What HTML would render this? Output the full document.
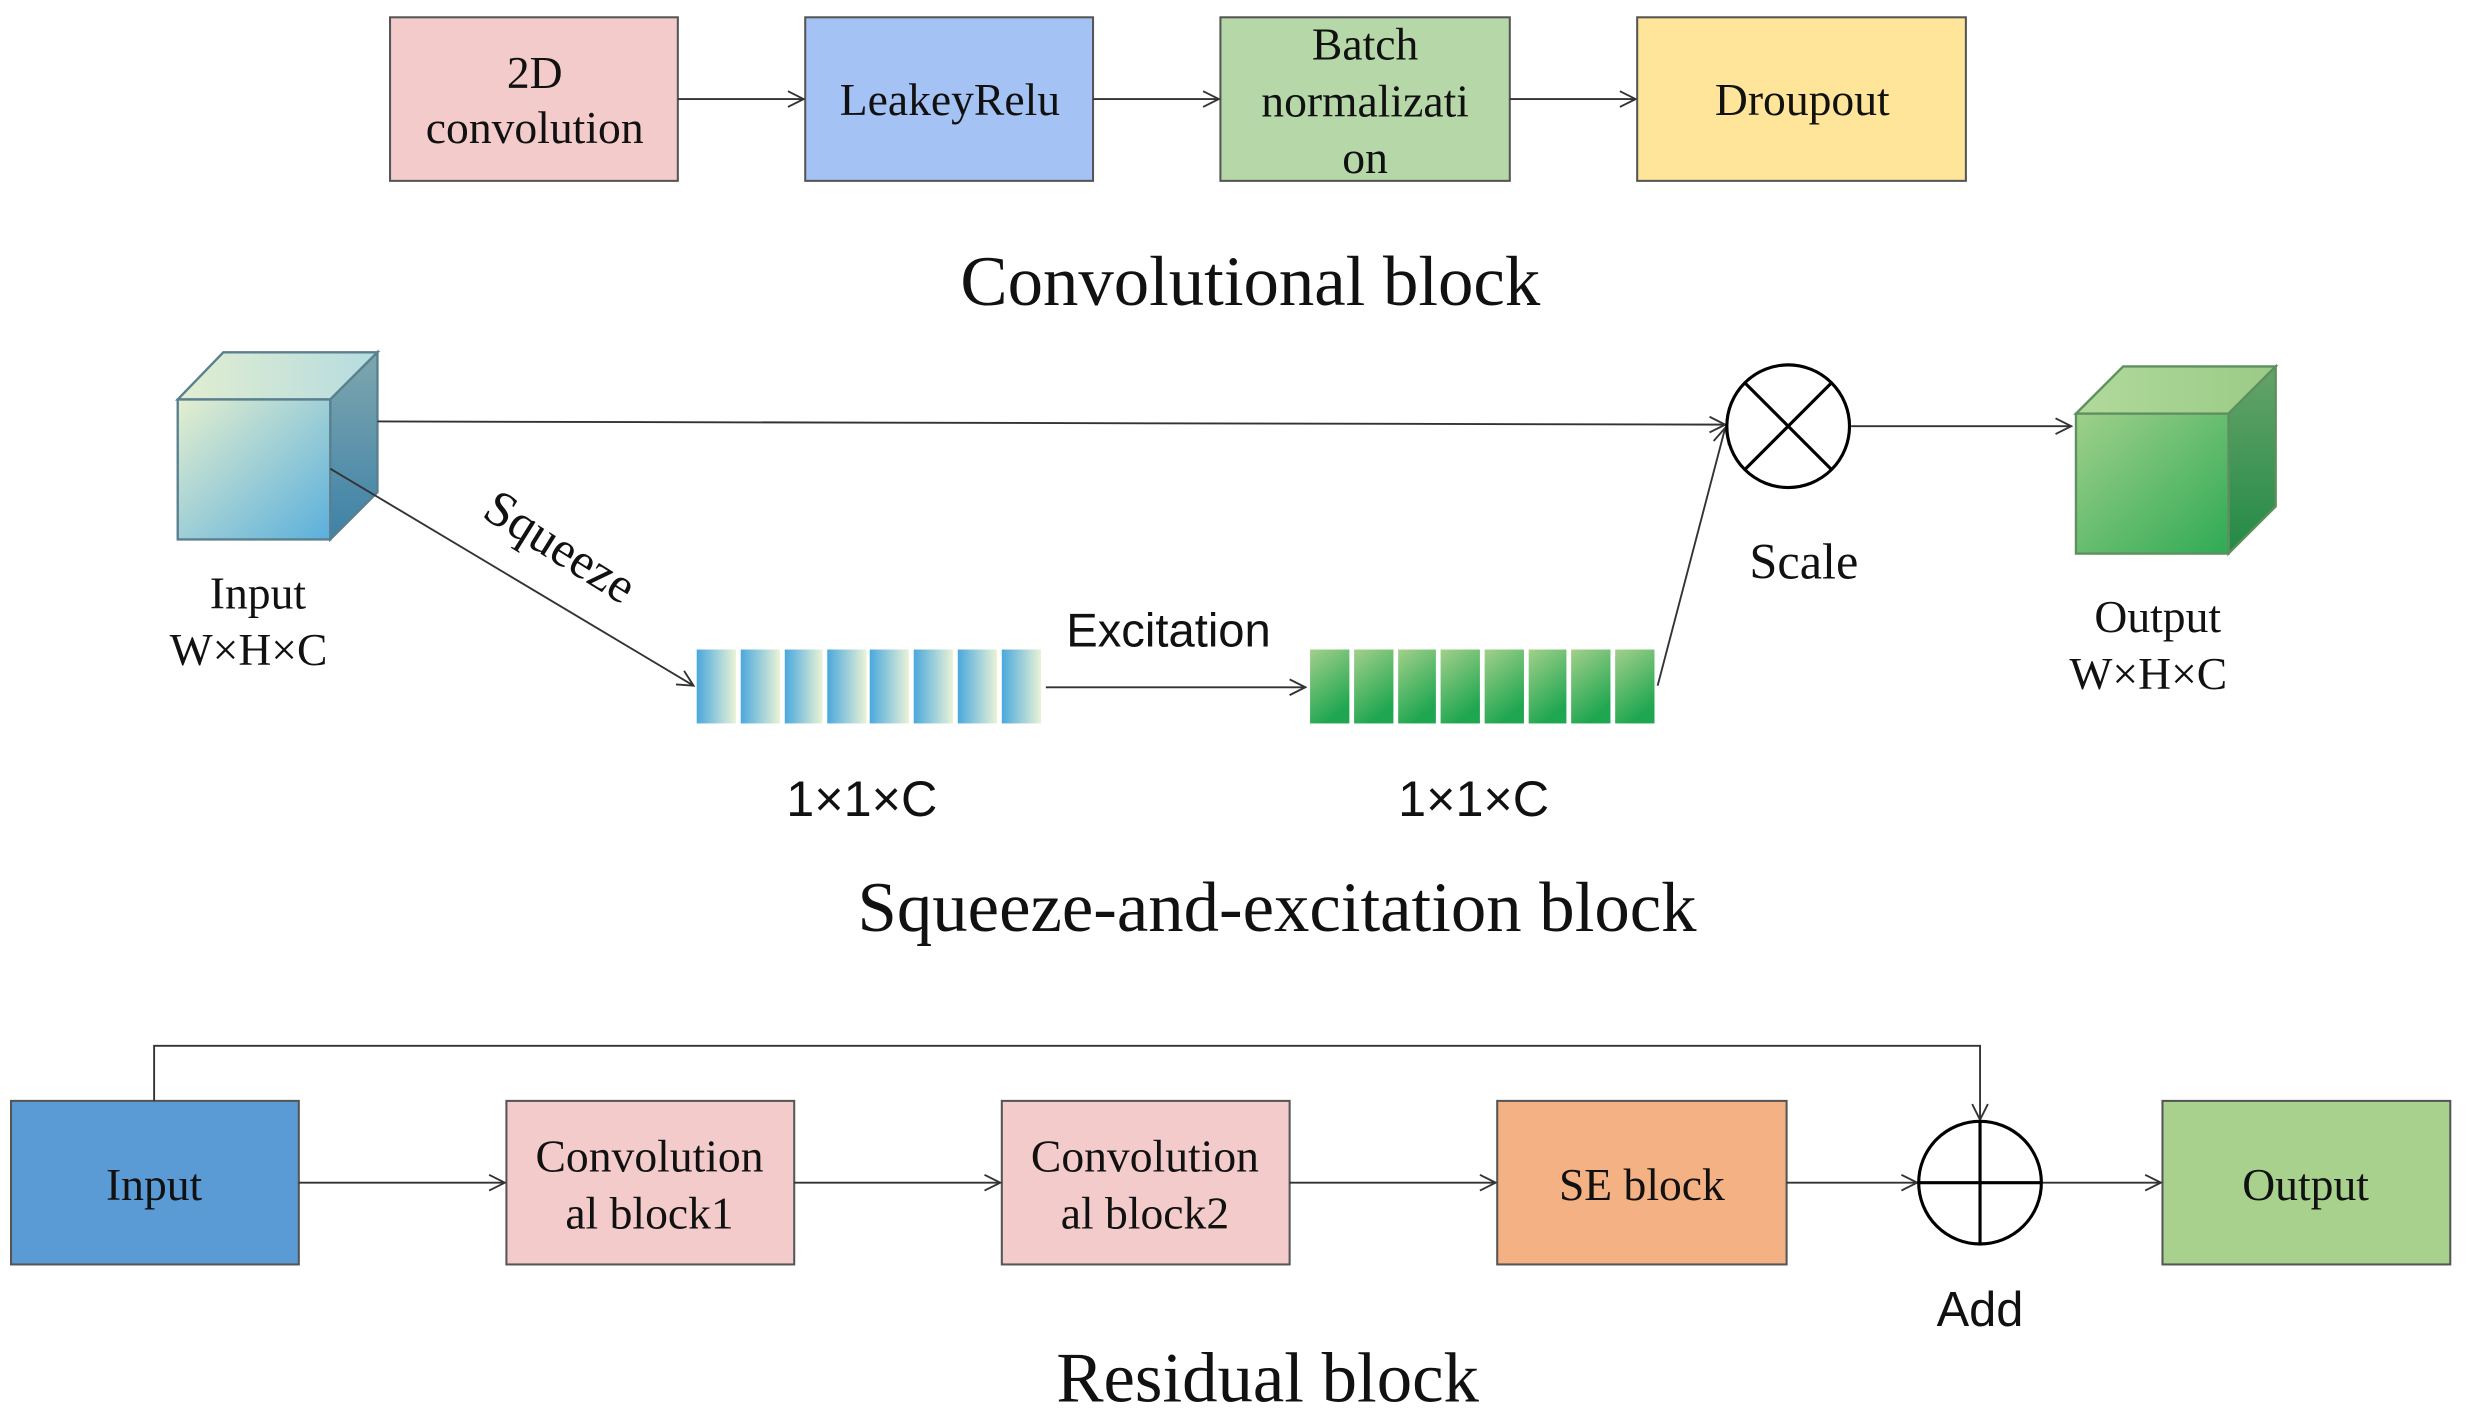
<!DOCTYPE html>
<html><head><meta charset="utf-8"><style>html,body{margin:0;padding:0;background:#fff}svg{display:block}</style></head>
<body>
<svg width="2466" height="1417" viewBox="0 0 1568 901" preserveAspectRatio="none" xmlns="http://www.w3.org/2000/svg">
<defs>
<marker id="a" markerWidth="12" markerHeight="12" refX="11" refY="6" orient="auto" markerUnits="userSpaceOnUse"><path d="M1,1 L11,6 L1,11" fill="none" stroke="#333" stroke-width="1.2"/></marker>
<linearGradient id="bf" x1="0" y1="0" x2="1" y2="1"><stop offset="0" stop-color="#e4efcf"/><stop offset="1" stop-color="#5aafdc"/></linearGradient>
<linearGradient id="bt" x1="0" y1="0" x2="1" y2="0"><stop offset="0" stop-color="#e2eed0"/><stop offset="1" stop-color="#b5dce0"/></linearGradient>
<linearGradient id="bs" x1="0" y1="0" x2="0" y2="1"><stop offset="0" stop-color="#7fa6ae"/><stop offset="1" stop-color="#3d82a8"/></linearGradient>
<linearGradient id="gf" x1="0" y1="0" x2="1" y2="1"><stop offset="0" stop-color="#9fd08a"/><stop offset="1" stop-color="#2faa55"/></linearGradient>
<linearGradient id="gt" x1="0" y1="0" x2="1" y2="0"><stop offset="0" stop-color="#b1d99b"/><stop offset="1" stop-color="#9acb86"/></linearGradient>
<linearGradient id="gs" x1="0" y1="0" x2="0" y2="1"><stop offset="0" stop-color="#65a36a"/><stop offset="1" stop-color="#238a45"/></linearGradient>
<linearGradient id="bb" x1="0" y1="0" x2="1" y2="0"><stop offset="0" stop-color="#4aa8dd"/><stop offset="1" stop-color="#eaf3d6"/></linearGradient>
<linearGradient id="gb" x1="0" y1="0" x2="0.4" y2="1"><stop offset="0" stop-color="#a2d08a"/><stop offset="1" stop-color="#1ea650"/></linearGradient>
</defs>
<g font-family="Liberation Serif, serif" fill="#111">
<g stroke="#555" stroke-width="1.3">
<rect x="248" y="11" width="183" height="104" fill="#f3cbcb"/>
<rect x="512" y="11" width="183" height="104" fill="#a4c2f4"/>
<rect x="776" y="11" width="184" height="104" fill="#b6d7a8"/>
<rect x="1041" y="11" width="209" height="104" fill="#ffe599"/>
</g>
<g stroke="#333" stroke-width="1.2" marker-end="url(#a)">
<line x1="431" y1="63" x2="511" y2="63"/><line x1="695" y1="63" x2="775" y2="63"/><line x1="960" y1="63" x2="1040" y2="63"/>
</g>
<g font-size="29" text-anchor="middle">
<text x="340" y="56">2D</text><text x="340" y="91">convolution</text>
<text x="604" y="73">LeakeyRelu</text>
<text x="868" y="38">Batch</text><text x="868" y="74">normalizati</text><text x="868" y="110">on</text>
<text x="1146" y="73">Droupout</text>
</g>
<text x="795" y="194" font-size="45" text-anchor="middle">Convolutional block</text>
<g stroke="#5a7f8f" stroke-width="1.5">
<polygon points="113,254 142,224 240,224 210,254" fill="url(#bt)"/>
<polygon points="210,254 240,224 240,313 210,343" fill="url(#bs)"/>
<rect x="113" y="254" width="97" height="89" fill="url(#bf)"/>
</g>
<g stroke="#5f8f5f" stroke-width="1.5">
<polygon points="1320,263 1350,233 1447,233 1417,263" fill="url(#gt)"/>
<polygon points="1417,263 1447,233 1447,322 1417,352" fill="url(#gs)"/>
<rect x="1320" y="263" width="97" height="89" fill="url(#gf)"/>
</g>
<g fill="url(#bb)">
<rect x="443" y="413" width="25" height="47"/><rect x="471" y="413" width="25" height="47"/><rect x="499" y="413" width="24" height="47"/><rect x="526" y="413" width="25" height="47"/><rect x="553" y="413" width="25" height="47"/><rect x="581" y="413" width="25" height="47"/><rect x="609" y="413" width="25" height="47"/><rect x="637" y="413" width="25" height="47"/>
</g>
<g fill="url(#gb)">
<rect x="833" y="413" width="25" height="47"/><rect x="861" y="413" width="25" height="47"/><rect x="889" y="413" width="24" height="47"/><rect x="916" y="413" width="25" height="47"/><rect x="944" y="413" width="25" height="47"/><rect x="972" y="413" width="24" height="47"/><rect x="999" y="413" width="25" height="47"/><rect x="1027" y="413" width="25" height="47"/>
</g>
<g stroke="#333" stroke-width="1.2" fill="none">
<line x1="240" y1="268" x2="1097" y2="270" marker-end="url(#a)"/>
<line x1="210" y1="298" x2="441" y2="436" marker-end="url(#a)"/>
<line x1="665" y1="437" x2="830" y2="437" marker-end="url(#a)"/>
<line x1="1054" y1="436" x2="1097" y2="272" marker-end="url(#a)"/>
<line x1="1177" y1="271" x2="1317" y2="271" marker-end="url(#a)"/>
</g>
<g stroke="#000" stroke-width="2" fill="#fff">
<circle cx="1137" cy="271" r="39"/>
<line x1="1109" y1="243" x2="1165" y2="299"/><line x1="1165" y1="243" x2="1109" y2="299"/>
</g>
<text x="356" y="358" font-size="32" text-anchor="middle" transform="rotate(32 356 348)">Squeeze</text>
<text x="743" y="411" font-size="30" text-anchor="middle" font-family="Liberation Sans, sans-serif">Excitation</text>
<g font-size="29" text-anchor="middle">
<text x="164" y="387">Input</text><text x="158" y="423">W×H×C</text>
<text x="1372" y="402">Output</text><text x="1366" y="438">W×H×C</text>
<text x="1147" y="368" font-size="32">Scale</text>
</g>
<g font-size="32" text-anchor="middle" font-family="Liberation Sans, sans-serif">
<text x="548" y="519">1×1×C</text><text x="937" y="519">1×1×C</text>
</g>
<text x="812" y="592" font-size="45" text-anchor="middle">Squeeze-and-excitation block</text>
<g stroke="#555" stroke-width="1.3">
<rect x="7" y="700" width="183" height="104" fill="#5b9bd5"/>
<rect x="322" y="700" width="183" height="104" fill="#f3cbcb"/>
<rect x="637" y="700" width="183" height="104" fill="#f3cbcb"/>
<rect x="952" y="700" width="184" height="104" fill="#f4b183"/>
<rect x="1375" y="700" width="183" height="104" fill="#a9d18e"/>
</g>
<g stroke="#333" stroke-width="1.2" fill="none">
<polyline points="98,700 98,665 1259,665 1259,712" marker-end="url(#a)"/>
<line x1="190" y1="752" x2="321" y2="752" marker-end="url(#a)"/>
<line x1="505" y1="752" x2="636" y2="752" marker-end="url(#a)"/>
<line x1="820" y1="752" x2="951" y2="752" marker-end="url(#a)"/>
<line x1="1136" y1="752" x2="1219" y2="752" marker-end="url(#a)"/>
<line x1="1298" y1="752" x2="1374" y2="752" marker-end="url(#a)"/>
</g>
<g stroke="#000" stroke-width="2" fill="none">
<circle cx="1259" cy="752" r="39"/>
<line x1="1220" y1="752" x2="1298" y2="752"/><line x1="1259" y1="713" x2="1259" y2="791"/>
</g>
<g font-size="29" text-anchor="middle">
<text x="98" y="763">Input</text>
<text x="413" y="745">Convolution</text><text x="413" y="781">al block1</text>
<text x="728" y="745">Convolution</text><text x="728" y="781">al block2</text>
<text x="1044" y="763">SE block</text>
<text x="1466" y="763">Output</text>
</g>
<text x="1259" y="843" font-size="31" text-anchor="middle" font-family="Liberation Sans, sans-serif">Add</text>
<text x="806" y="891" font-size="45" text-anchor="middle">Residual block</text>
</g>
</svg>
</body></html>
